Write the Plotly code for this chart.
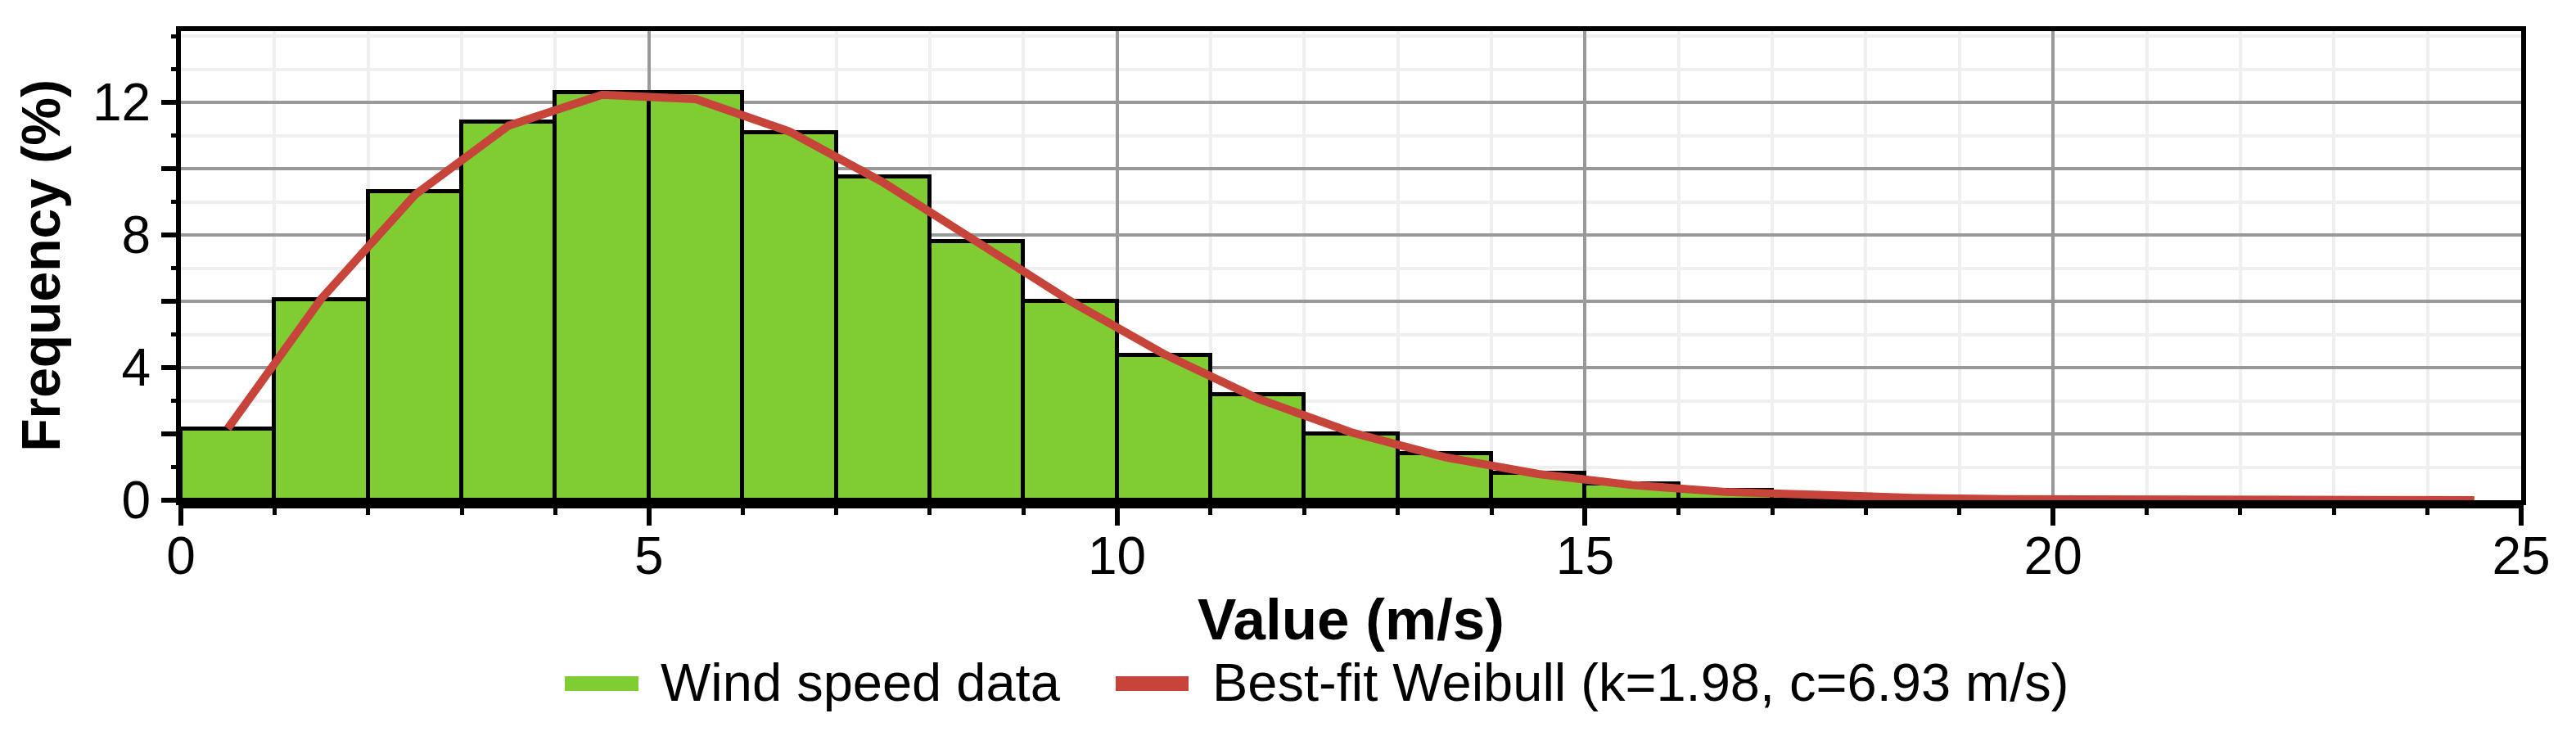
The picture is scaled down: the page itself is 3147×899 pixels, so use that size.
import plotly.graph_objects as go

# ---- data ----
bin_left = [0, 1, 2, 3, 4, 5, 6, 7, 8, 9, 10, 11, 12, 13, 14, 15, 16, 17, 18, 19, 20]
bar_values = [2.15, 6.05, 9.3, 11.4, 12.3, 12.3, 11.1, 9.75, 7.8, 6.0, 4.37,
              3.18, 2.0, 1.41, 0.82, 0.49, 0.3, 0.14, 0.07, 0.04, 0.02]
fit_x = [0.5, 1.5, 2.5, 3.5, 4.5, 5.5, 6.5, 7.5, 8.5, 9.5, 10.5, 11.5, 12.5,
         13.5, 14.5, 15.5, 16.5, 17.5, 18.5, 19.5, 20.5, 21.5, 22.5, 23.5, 24.5]
fit_y = [2.16, 6.08, 9.21, 11.3, 12.23, 12.1, 11.12, 9.59, 7.8, 6.01, 4.41,
         3.07, 2.05, 1.3, 0.79, 0.46, 0.25, 0.14, 0.07, 0.03, 0.02, 0.01, 0.0, 0.0, 0.0]
x_tickvals = [0, 5, 10, 15, 20, 25]
y_tickvals = [0, 2, 4, 6, 8, 10, 12]
y_ticktext = ["0", "", "4", "", "8", "", "12"]
bar_name = "Wind speed data"
fit_name = "Best-fit Weibull (k=1.98, c=6.93 m/s)"

GREEN = "#80cc33"
RED = "#c6443a"
FONT = "Liberation Sans, Arial, sans-serif"

# plot area in pixels (for placing the legend below it)
L, R, T, B = 221, 67, 38, 288
PW, PH = 3147 - L - R, 899 - T - B


def px_x(px):
    return (px - L) / PW


def px_y(py):
    return (899 - B - py) / PH


fig = go.Figure()
fig.add_trace(go.Bar(
    x=[b + 0.5 for b in bin_left], y=bar_values, width=1,
    marker=dict(color=GREEN, line=dict(color="black", width=5)),
    showlegend=False, name=bar_name,
))
fig.add_trace(go.Scatter(
    x=fit_x, y=fit_y, mode="lines",
    line=dict(color=RED, width=10), showlegend=False, name=fit_name,
))

legend_items = [(bar_name, GREEN, 690, 780, 805), (fit_name, RED, 1363, 1452, 1479)]
shapes = [dict(type="rect", xref="paper", yref="paper", x0=0, x1=1,
               y0=-10 / PH, y1=0, fillcolor="black", line=dict(width=0), layer="above")]
annotations = []
for name, color, s0, s1, tx in legend_items:
    shapes.append(dict(type="rect", xref="paper", yref="paper",
                       x0=px_x(s0), x1=px_x(s1), y0=px_y(844), y1=px_y(826),
                       fillcolor=color, line=dict(width=0)))
    annotations.append(dict(text=name, xref="paper", yref="paper",
                            x=px_x(tx), y=px_y(833), xanchor="left", yanchor="middle",
                            showarrow=False, font=dict(size=65, color="black", family=FONT)))

fig.update_layout(
    width=3147, height=899, autosize=False,
    margin=dict(l=L, r=R, t=T, b=B, pad=0),
    paper_bgcolor="white", plot_bgcolor="white",
    bargap=0, showlegend=False,
    font=dict(family=FONT, size=64, color="black"),
    xaxis=dict(
        range=[0, 25], tickvals=x_tickvals, ticktext=[str(v) for v in x_tickvals],
        showline=True, linecolor="black", linewidth=6, mirror=True,
        ticks="outside", ticklen=25, tickwidth=6, tickcolor="black",
        ticklabelstandoff=-18,
        showgrid=True, gridcolor="#999999", gridwidth=4, zeroline=False,
        minor=dict(dtick=1, ticks="outside", ticklen=12, tickwidth=5, tickcolor="black",
                   showgrid=True, gridcolor="#efefef", gridwidth=4),
        title=dict(text="<b>Value (m/s)</b>", font=dict(size=71), standoff=20),
        automargin=False,
    ),
    yaxis=dict(
        range=[0, 14.15], tickvals=y_tickvals, ticktext=y_ticktext,
        showline=True, linecolor="black", linewidth=6, mirror=True,
        ticks="outside", ticklen=18, tickwidth=6, tickcolor="black",
        showgrid=True, gridcolor="#999999", gridwidth=4, zeroline=False,
        minor=dict(dtick=1, ticks="outside", ticklen=6, tickwidth=5, tickcolor="black",
                   showgrid=True, gridcolor="#efefef", gridwidth=4),
        title=dict(text="<b>Frequency (%)</b>", font=dict(size=66), standoff=20),
        automargin=False,
    ),
    shapes=shapes,
    annotations=annotations,
)

fig.write_html("out.html", config=dict(displayModeBar=False),
               post_script="document.body.style.margin='0';")
